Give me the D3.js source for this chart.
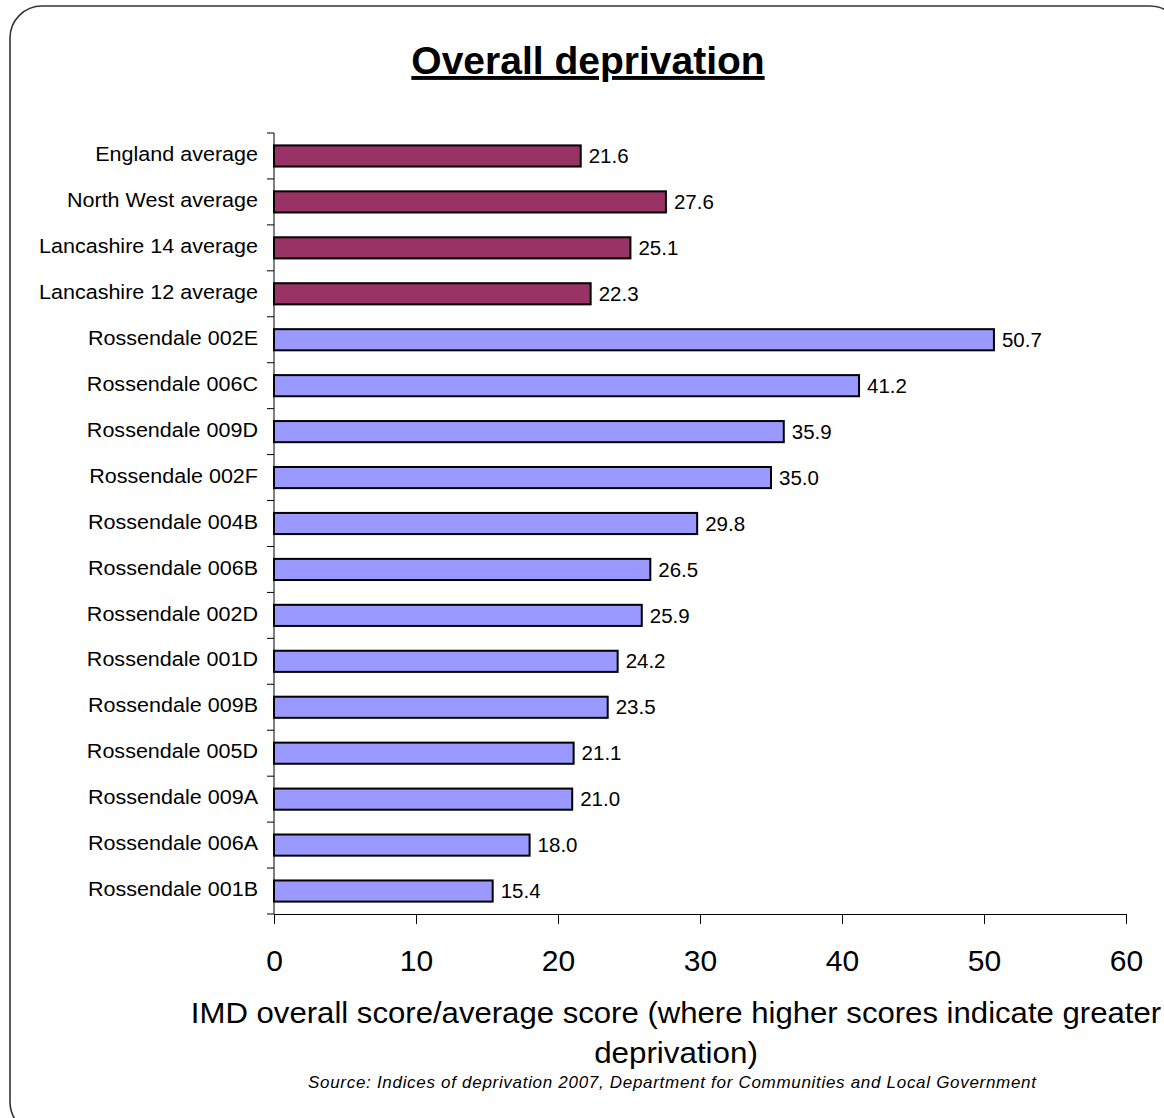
<!DOCTYPE html>
<html>
<head>
<meta charset="utf-8">
<script src="https://cdn.jsdelivr.net/npm/d3@7"></script>
<style>
  html, body { margin: 0; padding: 0; background: #fff; }
  svg { display: block; font-family: "Liberation Sans", Arial, sans-serif; }
</style>
</head>
<body>
<svg id="chart" width="1164" height="1118"></svg>
<script>
// Areas in display order, top to bottom
const areas = [
  "England average", "North West average", "Lancashire 14 average", "Lancashire 12 average",
  "Rossendale 002E", "Rossendale 006C", "Rossendale 009D", "Rossendale 002F",
  "Rossendale 004B", "Rossendale 006B", "Rossendale 002D", "Rossendale 001D",
  "Rossendale 009B", "Rossendale 005D", "Rossendale 009A", "Rossendale 006A",
  "Rossendale 001B"
];
// IMD 2007 overall scores
const scores = [21.6, 27.6, 25.1, 22.3, 50.7, 41.2, 35.9, 35.0, 29.8, 26.5, 25.9, 24.2, 23.5, 21.1, 21.0, 18.0, 15.4];
// Which bars are comparison averages rather than individual areas
const isAverage = [true, true, true, true, false, false, false, false, false, false, false, false, false, false, false, false, false];
const xTicks = [0, 10, 20, 30, 40, 50, 60];

const svg = d3.select("#chart");

// widen a text element horizontally by a factor, keeping its anchor
function stretch(sel, factor) {
  sel.each(function () {
    const w = this.getComputedTextLength();
    d3.select(this).attr("textLength", w * factor).attr("lengthAdjust", "spacingAndGlyphs");
  });
}

// rounded frame
svg.append("rect")
  .attr("x", 10).attr("y", 6)
  .attr("width", 1172).attr("height", 1128)
  .attr("rx", 32).attr("ry", 32)
  .attr("fill", "none").attr("stroke", "#333").attr("stroke-width", 1.6);

const plot = { left: 274, right: 1126, top: 133, bottom: 914 };

const x = d3.scaleLinear().domain([0, 60]).range([plot.left, plot.right]);
const y = d3.scaleBand().domain(areas).range([plot.top, plot.bottom]).paddingInner(0.54).paddingOuter(0.27);

// title
svg.append("text")
  .attr("x", 588).attr("y", 74)
  .attr("text-anchor", "middle")
  .attr("font-size", 39).attr("font-weight", "bold")
  .attr("text-decoration", "underline")
  .text("Overall deprivation");

// bars
const data = areas.map((a, i) => ({ area: a, score: scores[i], avg: isAverage[i] }));

svg.append("g").selectAll("rect")
  .data(data).join("rect")
  .attr("x", x(0))
  .attr("y", d => y(d.area))
  .attr("width", d => x(d.score) - x(0))
  .attr("height", y.bandwidth())
  .attr("fill", d => d.avg ? "#993366" : "#9999FF")
  .attr("stroke", "#000").attr("stroke-width", 2);

// value labels
svg.append("g").selectAll("text")
  .data(data).join("text")
  .attr("x", d => x(d.score) + 8)
  .attr("y", d => y(d.area) + y.bandwidth() / 2)
  .attr("dy", "0.35em")
  .attr("font-size", 20.5)
  .attr("fill", "#000")
  .text(d => d.score.toFixed(1));

// category labels
const catLabels = svg.append("g").selectAll("text")
  .data(data).join("text")
  .attr("x", 258)
  .attr("y", d => y(d.area) + y.bandwidth() / 2 - 2)
  .attr("dy", "0.35em")
  .attr("text-anchor", "end")
  .attr("font-size", 20.5)
  .attr("fill", "#000")
  .text(d => d.area);
stretch(catLabels, 1.05);

// vertical axis line with ticks between categories
const yAxisG = svg.append("g").attr("stroke", "#000").attr("stroke-width", 1);
yAxisG.append("line")
  .attr("x1", plot.left).attr("x2", plot.left)
  .attr("y1", plot.top).attr("y2", plot.bottom);
const step = (plot.bottom - plot.top) / areas.length;
yAxisG.selectAll("line.tick")
  .data(d3.range(areas.length + 1)).join("line")
  .attr("class", "tick")
  .attr("x1", plot.left - 7).attr("x2", plot.left)
  .attr("y1", i => plot.top + i * step).attr("y2", i => plot.top + i * step);

// horizontal axis
const xAxis = d3.axisBottom(x).tickValues(xTicks).tickSize(10).tickPadding(0).tickFormat(d3.format("d"));
const xg = svg.append("g")
  .attr("transform", `translate(0,${plot.bottom})`)
  .call(xAxis);
xg.select(".domain").attr("stroke", "#000");
xg.selectAll(".tick line").attr("stroke", "#000");
xg.selectAll(".tick text")
  .attr("y", 57).attr("dy", null)
  .attr("font-size", 30)
  .attr("font-family", "Liberation Sans, Arial, sans-serif")
  .attr("fill", "#000");

// axis title, two lines
const t1 = svg.append("text")
  .attr("x", 676).attr("y", 1023)
  .attr("text-anchor", "middle")
  .attr("font-size", 29)
  .attr("fill", "#000")
  .text("IMD overall score/average score (where higher scores indicate greater");
stretch(t1, 1.073);
const t2 = svg.append("text")
  .attr("x", 676).attr("y", 1063)
  .attr("text-anchor", "middle")
  .attr("font-size", 29)
  .attr("fill", "#000")
  .text("deprivation)");
stretch(t2, 1.08);

// source note
const src = svg.append("text")
  .attr("x", 672).attr("y", 1088)
  .attr("text-anchor", "middle")
  .attr("font-size", 17)
  .attr("font-style", "italic")
  .attr("fill", "#000")
  .text("Source: Indices of deprivation 2007, Department for Communities and Local Government");
src.attr("textLength", 728).attr("lengthAdjust", "spacing");
</script>
</body>
</html>
